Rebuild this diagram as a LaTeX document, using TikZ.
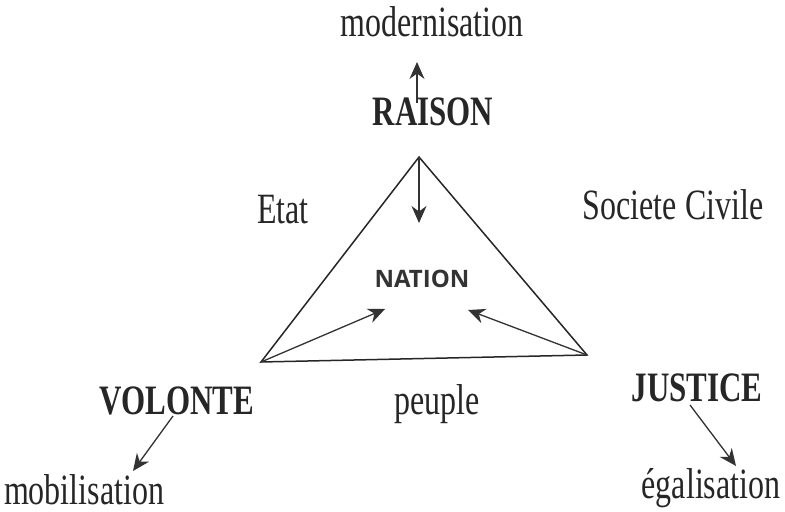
\documentclass[tikz,border=0pt]{standalone}
\usepackage{fontspec}
\setmainfont{Liberation Serif}
\newfontfamily\natfont{Open Sans}
\usepackage{tikz}
\usetikzlibrary{arrows.meta,positioning}

\begin{document}
\begin{tikzpicture}[x=0.5pt, y=-0.5pt]
\tikzset{
  lbl/.style  ={inner sep=0pt, yscale=1.35, text=black!85, font=\fontsize{16}{18}\selectfont},
  key/.style  ={inner sep=0pt, yscale=1.35, text=black!85, font=\fontsize{15.5}{18}\selectfont\bfseries},
  nat/.style  ={inner sep=0pt, text=black!80, font=\fontsize{12}{14}\natfont\bfseries},
  edge/.style ={line width=0.75pt, draw=black!85},
  arr/.style  ={-{Stealth[length=8.5pt,width=7.5pt]}, line width=0.65pt, draw=black!80, fill=black!75}
}
\useasboundingbox (0,0) rectangle (785,512);
% words
\node (mod)[lbl] at (432,22) {modernisation};
\node (rai)[key] at (433,112) {RAISON};
\node (nat)[nat] at (422,279) {NATION};
\node (eta)[lbl] at (283,210) {Etat};
\node (soc)[lbl] at (673,205) {Societe Civile};
\node (vol)[key] at (177,401) {VOLONTE};
\node (peu)[lbl] at (437,404) {peuple};
\node (jus)[key] at (697,388) {JUSTICE};
\node (mob)[lbl] at (84,490) {mobilisation};
\node (ega)[lbl] at (711,488) {égalisation};
% triangle
\coordinate (top) at (419,157);
\coordinate (lft) at (261,362);
\coordinate (rgt) at (587,355);
\draw[edge] (lft) -- (top) -- (rgt) -- cycle;
% arrows
\coordinate (up0) at (417,103);  \coordinate (up1) at (417,62);
\coordinate (dn1) at (419,223);
\coordinate (nl) at (385,309);   \coordinate (nr) at (468,310);
\coordinate (v0) at (173,416);   \coordinate (v1) at (133,471);
\coordinate (j0) at (690,405);   \coordinate (j1) at (736,466);
\draw[arr] (up0) -- (up1);
\draw[arr] (top) -- (dn1);
\draw[arr] (lft) -- (nl);
\draw[arr] (rgt) -- (nr);
\draw[arr] (v0) -- (v1);
\draw[arr] (j0) -- (j1);
\end{tikzpicture}
\end{document}
